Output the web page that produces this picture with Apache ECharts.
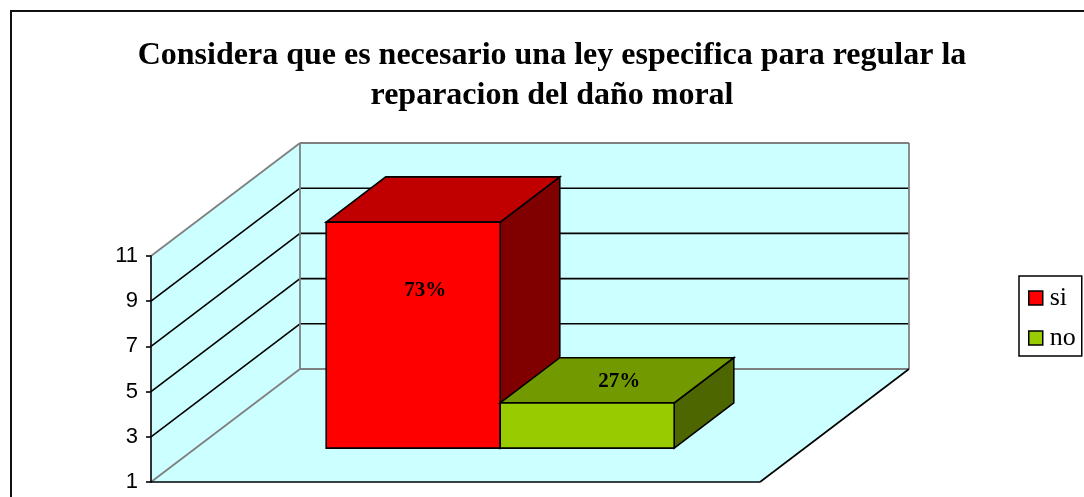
<!DOCTYPE html>
<html><head><meta charset="utf-8">
<style>html,body{margin:0;padding:0;background:#fff}#c{width:1084px;height:497px}</style>
<script src="https://cdn.jsdelivr.net/npm/echarts@6/dist/echarts.min.js"></script>
</head><body><div id="c"></div>
<script>
const categories = [''];
const seriesNames = ['si', 'no'];
const siValues = [11];
const noValues = [3];
const siLabels = ['73%'];
const noLabels = ['27%'];
const titleLines = ['Considera que es necesario una ley especifica para regular la', 'reparacion del daño moral'];
const yMin = 1, yMax = 11, yStep = 2;
const gridValues = [3, 5, 7, 9];

const DX = 149, DY = -113;
const SERIF = '"Liberation Serif", serif';
const colors = {
  si: {front: '#FF0000', top: '#C00000', side: '#800000'},
  no: {front: '#99CC00', top: '#739900', side: '#4D6600'}
};
const poly = (pts, fill, stroke, w) => ({
  type: 'polygon', shape: {points: pts},
  style: {fill: fill, stroke: stroke || null, lineWidth: w || 0, lineJoin: 'miter'}
});
const line = (a, b, stroke, w) => ({
  type: 'line', shape: {x1: a[0], y1: a[1], x2: b[0], y2: b[1]},
  style: {stroke: stroke, lineWidth: w, fill: null}
});

function renderWalls(params, api) {
  const band = api.size([1, 0])[0];
  const c = api.coord([0, yMin]);
  const x0 = c[0] - band / 2, x1 = c[0] + band / 2;
  const yB = c[1], yT = api.coord([0, yMax])[1];
  const WALL = '#CCFFFF', GREY = '#808080', K = '#000';
  const kids = [
    poly([[x0 + DX, yT + DY], [x1 + DX, yT + DY], [x1 + DX, yB + DY], [x0 + DX, yB + DY]], WALL),
    poly([[x0, yT], [x0 + DX, yT + DY], [x0 + DX, yB + DY], [x0, yB]], WALL),
    poly([[x0, yB], [x1, yB], [x1 + DX, yB + DY], [x0 + DX, yB + DY]], WALL)
  ];
  gridValues.forEach(v => {
    const y = api.coord([0, v])[1];
    kids.push(line([x0, y], [x0 + DX, y + DY], K, 1.6));
    kids.push(line([x0 + DX, y + DY], [x1 + DX, y + DY], K, 1.6));
  });
  kids.push(line([x0, yT], [x0 + DX, yT + DY], GREY, 1.8));
  kids.push(line([x0 + DX, yT + DY], [x1 + DX, yT + DY], GREY, 1.8));
  kids.push(line([x0 + DX, yT + DY], [x0 + DX, yB + DY], GREY, 1.8));
  kids.push(line([x1 + DX, yT + DY], [x1 + DX, yB + DY], GREY, 1.8));
  kids.push(line([x0 + DX, yB + DY], [x1 + DX, yB + DY], GREY, 1.8));
  kids.push(line([x0, yB], [x0 + DX, yB + DY], GREY, 1.8));
  kids.push(line([x0, yB], [x1, yB], K, 1.6));
  kids.push(line([x1, yB], [x1 + DX, yB + DY], K, 1.6));
  return {type: 'group', children: kids};
}

function barRenderer(idx, name, labels, labelDx) {
  return function (params, api) {
    const band = api.size([1, 0])[0];
    const w = band / 3.5;
    const c = api.coord([api.value(0), api.value(1)]);
    const base = api.coord([api.value(0), yMin]);
    const fx = base[0] - band / 2 + w * (0.75 + idx) + 0.3 * DX;
    const yBot = base[1] + 0.3 * DY, yTop = c[1] + 0.3 * DY;
    const dx = 0.4 * DX, dy = 0.4 * DY;
    const col = colors[name], K = '#000';
    return {type: 'group', children: [
      poly([[fx + w, yTop], [fx + w + dx, yTop + dy], [fx + w + dx, yBot + dy], [fx + w, yBot]], col.side, K, 1.6),
      poly([[fx, yTop], [fx + dx, yTop + dy], [fx + w + dx, yTop + dy], [fx + w, yTop]], col.top, K, 1.6),
      poly([[fx, yTop], [fx + w, yTop], [fx + w, yBot], [fx, yBot]], col.front, K, 1.6),
      {type: 'text', z2: 5, style: {
        text: labels[params.dataIndex],
        x: fx + w / 2 + labelDx, y: (yTop + yBot) / 2 + dy + 1,
        fill: '#000', font: 'bold 21px ' + SERIF, align: 'center', verticalAlign: 'middle'
      }}
    ]};
  };
}

const chart = echarts.init(document.getElementById('c'), null, {renderer: 'canvas'});
chart.setOption({
  animation: false,
  backgroundColor: '#fff',
  graphic: [{type: 'rect', z: -1, shape: {x: 11, y: 11, width: 1090, height: 500},
    style: {fill: '#fff', stroke: '#111', lineWidth: 2}}],
  title: {
    text: titleLines.join('\n'), left: 547, top: 31, textAlign: 'center',
    textStyle: {fontFamily: SERIF, fontWeight: 'bold', fontSize: 32, lineHeight: 40, color: '#000'}
  },
  legend: {
    orient: 'vertical', left: 1019, top: 276,
    data: seriesNames.map(n => ({name: n, icon: 'rect', itemStyle: {color: colors[n].front, borderColor: '#000', borderWidth: 1.5}})),
    itemWidth: 14, itemHeight: 14, itemGap: 14, padding: [9, 6, 5, 9],
    borderColor: '#000', borderWidth: 1.5, backgroundColor: '#fff',
    textStyle: {fontFamily: SERIF, fontSize: 26, color: '#000', padding: [0, 0, 0, 2]}
  },
  grid: {left: 151, top: 256, width: 609, height: 226},
  xAxis: {type: 'category', data: categories, boundaryGap: true, axisLine: {show: false}, axisTick: {show: false}, axisLabel: {show: false}},
  yAxis: {type: 'value', min: yMin, max: yMax, interval: yStep, z: 10, splitLine: {show: false},
    axisLine: {show: true, lineStyle: {color: '#000', width: 1.6}},
    axisTick: {show: true, length: 5, lineStyle: {color: '#000', width: 1.6}},
    axisLabel: {fontFamily: '"Liberation Sans", Arial, sans-serif', fontSize: 22, color: '#000', margin: 13, padding: [2, 0, 0, 0]}},
  series: [
    {type: 'custom', name: 'walls', z: 1, silent: true, renderItem: renderWalls, data: [[0, yMin]], encode: {x: 0, y: 1}, clip: false},
    {type: 'custom', name: 'si', z: 3, itemStyle: {color: colors.si.front}, renderItem: barRenderer(0, 'si', siLabels, 12), data: siValues.map((v, i) => [i, v]), encode: {x: 0, y: 1}, clip: false},
    {type: 'custom', name: 'no', z: 4, itemStyle: {color: colors.no.front}, renderItem: barRenderer(1, 'no', noLabels, 32), data: noValues.map((v, i) => [i, v]), encode: {x: 0, y: 1}, clip: false}
  ]
});
</script></body></html>
